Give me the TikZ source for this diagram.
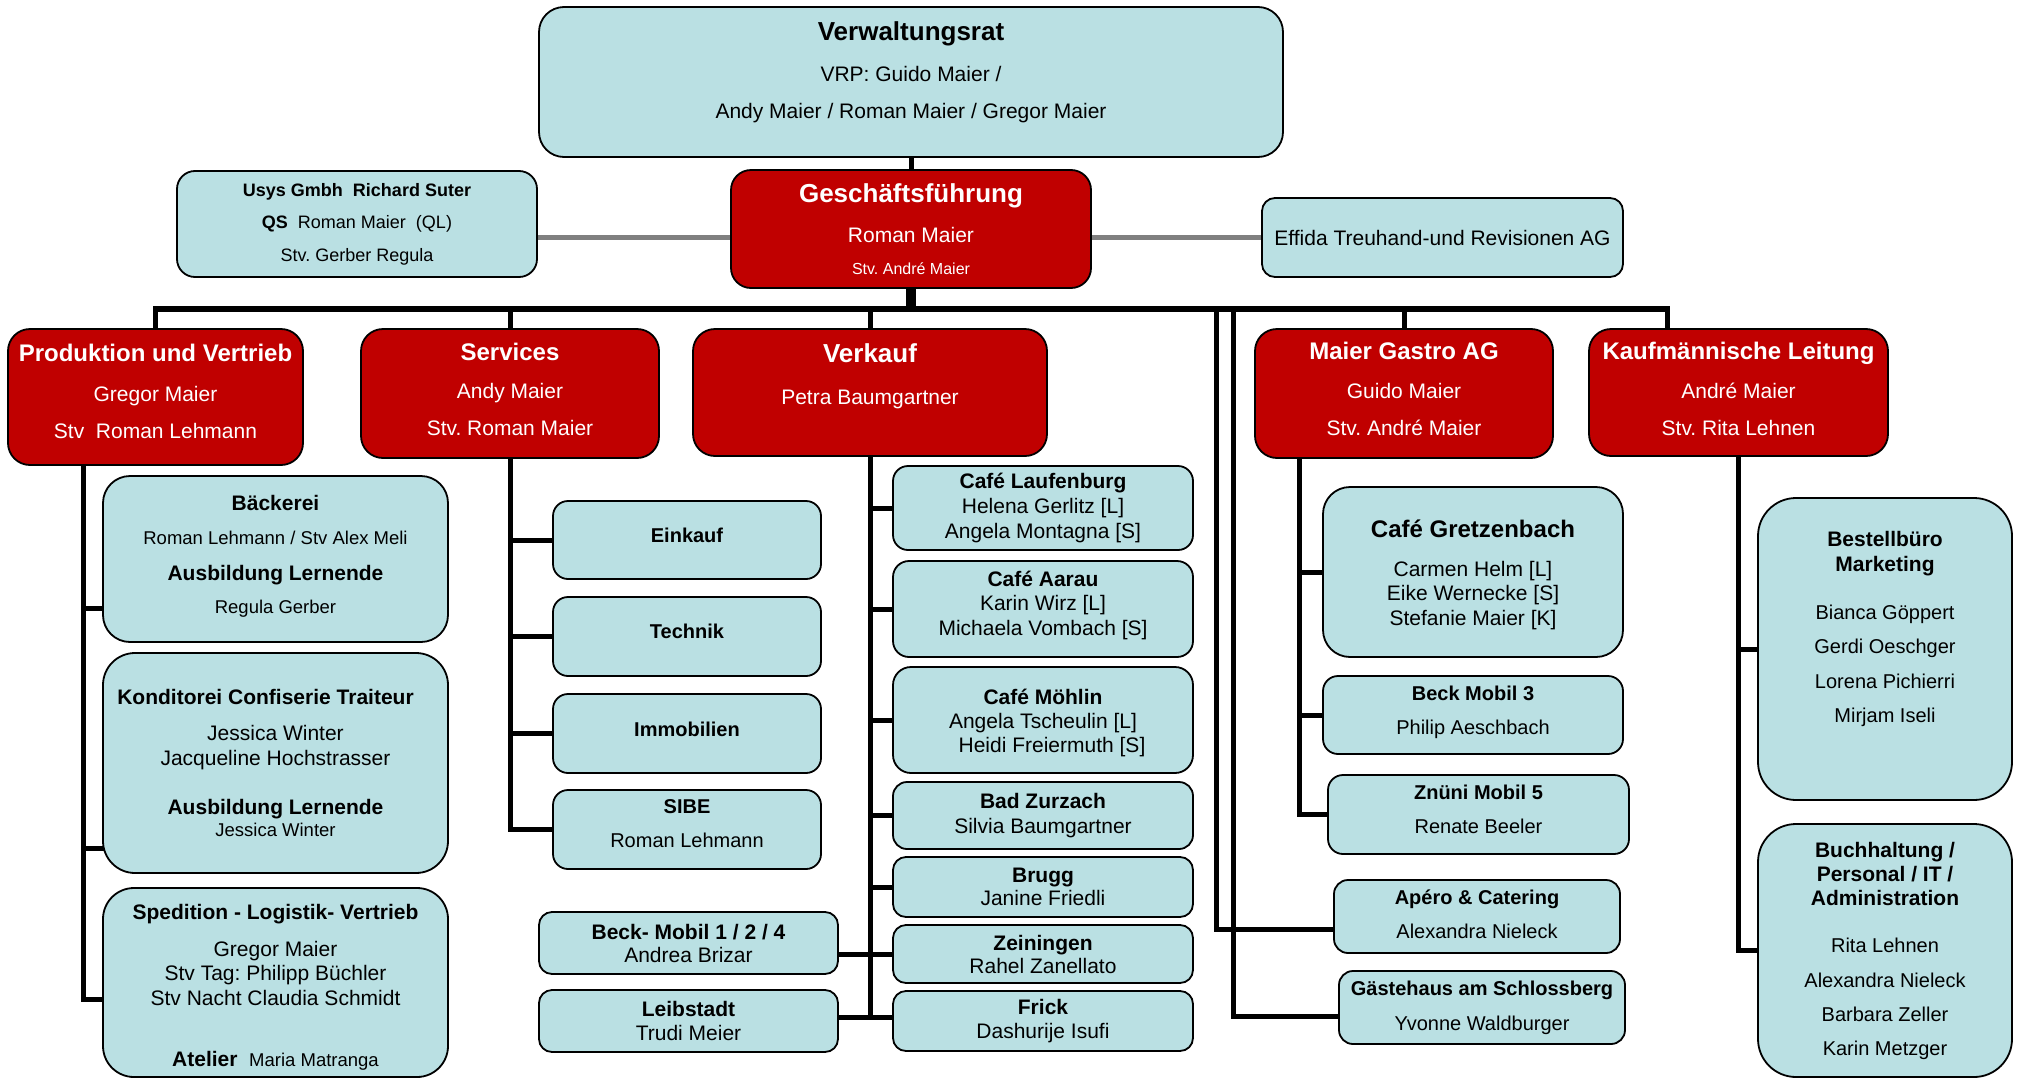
\documentclass[tikz,border=0pt]{standalone}
\usepackage{fontspec}
\setmainfont{Liberation Sans}
\usetikzlibrary{backgrounds}
\definecolor{gfred}{HTML}{C00000}
\definecolor{lblue}{HTML}{BAE0E3}
\definecolor{tiegray}{HTML}{808080}
\newcommand\hd[2]{{\bfseries\fontsize{#1}{0}\selectfont #2}}
\newcommand\nm[2]{{\fontsize{#1}{0}\selectfont #2}}
\frenchspacing
\tikzset{
  box/.style={draw=black, line width=1.8pt, align=center, inner sep=0pt,
    font={\fontsize{21}{0}\selectfont\lineskiplimit=-1000pt}},
  rbox/.style={box, fill=gfred, text=white},
  bbox/.style={box, fill=lblue},
  tie/.style={line width=5pt, line cap=rect},
  bus/.style={line width=6pt, line cap=rect},
  grayline/.style={line width=5pt, draw=tiegray}
}
\begin{document}
\begin{tikzpicture}[x=1pt, y=-1pt]
\useasboundingbox (0,0) rectangle (2040,1079);
% Leitung
\node[bbox, minimum width=744pt, minimum height=150pt, rounded corners=25pt] (vr) at (911,82)
  {\hd{26}{Verwaltungsrat}\\[41pt] VRP: Guido Maier /\\[37pt] Andy Maier / Roman Maier / Gregor Maier\\[24pt]\mbox{}};
\node[rbox, minimum width=360pt, minimum height=118pt, rounded corners=20pt] (gf) at (911,229)
  {\hd{26}{Geschäftsführung}\\[40pt] Roman Maier\\[32pt]\nm{16}{Stv. André Maier}};
\node[bbox, minimum width=360pt, minimum height=106pt, rounded corners=18pt] (usys) at (357,224)
  {\hd{18}{Usys Gmbh\ \ Richard Suter}\\[32pt]\nm{18}{\textbf{QS}\ \ Roman Maier\ \ (QL)}\\[33pt]\nm{18}{Stv. Gerber Regula}};
\node[bbox, minimum width=361pt, minimum height=79pt, rounded corners=13pt] (effida) at (1442.5,237.5)
  {Effida Treuhand-und Revisionen AG};
% Bereiche
\node[rbox, minimum width=295pt, minimum height=136pt, rounded corners=22pt] (pv) at (155.5,397)
  {\hd{24}{Produktion und Vertrieb}\\[40pt] Gregor Maier\\[37pt] Stv\ \ Roman Lehmann\\[12pt]\mbox{}};
\node[rbox, minimum width=298pt, minimum height=129pt, rounded corners=22pt] (serv) at (510,393.5)
  {\hd{24}{Services}\\[38pt] Andy Maier\\[37pt] Stv. Roman Maier\\[9pt]\mbox{}};
\node[rbox, minimum width=354pt, minimum height=127pt, rounded corners=22pt] (verk) at (870,392.5)
  {\hd{26}{Verkauf}\\[42pt] Petra Baumgartner\\[37pt]\mbox{}};
\node[rbox, minimum width=298pt, minimum height=129pt, rounded corners=22pt] (gastro) at (1404,393.5)
  {\hd{24}{Maier Gastro AG}\\[39pt] Guido Maier\\[37pt] Stv. André Maier\\[10pt]\mbox{}};
\node[rbox, minimum width=299pt, minimum height=127pt, rounded corners=22pt] (kl) at (1738.5,392.5)
  {\hd{24}{Kaufmännische Leitung}\\[39pt] André Maier\\[37pt] Stv. Rita Lehnen\\[8pt]\mbox{}};
% Produktion
\node[bbox, minimum width=345pt, minimum height=166pt, rounded corners=27pt] (baeck) at (275.5,559)
  {\hd{21}{Bäckerei}\\[34pt]\nm{18.5}{Roman Lehmann / Stv Alex Meli\hspace*{50pt}}\\[36pt]\hd{21}{Ausbildung Lernende}\\[33pt]\nm{18.5}{Regula Gerber}\\[9pt]\mbox{}};
\node[bbox, minimum width=345pt, minimum height=220pt, rounded corners=32pt] (kond) at (275.5,763)
  {\hd{21}{Konditorei Confiserie Traiteur\hspace*{20pt}}\\[36pt] Jessica Winter\\[25pt] Jacqueline Hochstrasser\\[49pt]\hd{21}{Ausbildung Lernende}\\[22pt]\nm{18.5}{Jessica Winter}};
\node[bbox, minimum width=345pt, minimum height=189pt, rounded corners=31pt] (sped) at (275.5,982.5)
  {\mbox{}\\[25pt]\hd{21}{Spedition - Logistik- Vertrieb}\\[37pt] Gregor Maier\\[24pt] Stv Tag: Philipp Büchler\\[25pt] Stv Nacht Claudia Schmidt\\[61pt]\hd{21}{Atelier}\ \ \nm{18.5}{Maria Matranga}};
% Services
\node[bbox, minimum width=268pt, minimum height=78pt, rounded corners=15pt] (eink) at (687,540) {\hd{20}{Einkauf}\\[10pt]\mbox{}};
\node[bbox, minimum width=268pt, minimum height=79pt, rounded corners=15pt] (tech) at (687,636.5) {\hd{20}{Technik}\\[11pt]\mbox{}};
\node[bbox, minimum width=268pt, minimum height=79pt, rounded corners=15pt] (immo) at (687,733.5) {\hd{20}{Immobilien}\\[9pt]\mbox{}};
\node[bbox, minimum width=268pt, minimum height=79pt, rounded corners=15pt] (sibe) at (687,829.5)
  {\hd{20}{SIBE}\\[34pt]\nm{20}{Roman Lehmann}\\[11pt]\mbox{}};
% Verkauf
\node[bbox, minimum width=300pt, minimum height=84pt, rounded corners=15pt] (lauf) at (1043,508)
  {\hd{21}{Café Laufenburg}\\[25pt] Helena Gerlitz [L]\\[25pt] Angela Montagna [S]};
\node[bbox, minimum width=300pt, minimum height=96pt, rounded corners=16pt] (aarau) at (1043,609)
  {\hd{21}{Café Aarau}\\[24pt] Karin Wirz [L]\\[25pt] Michaela Vombach [S]\\[11pt]\mbox{}};
\node[bbox, minimum width=300pt, minimum height=106pt, rounded corners=18pt] (moehlin) at (1043,720)
  {\mbox{}\\[22pt]\hd{21}{Café Möhlin}\\[24pt] Angela Tscheulin [L]\\[24pt]\hspace*{18pt}Heidi Freiermuth [S]};
\node[bbox, minimum width=300pt, minimum height=67pt, rounded corners=14pt] (zurz) at (1043,815.5)
  {\hd{21}{Bad Zurzach}\\[25pt] Silvia Baumgartner};
\node[bbox, minimum width=300pt, minimum height=60pt, rounded corners=13pt] (brugg) at (1043,887)
  {\hd{21}{Brugg}\\[23pt] Janine Friedli};
\node[bbox, minimum width=300pt, minimum height=58pt, rounded corners=13pt] (zein) at (1043,954)
  {\hd{21}{Zeiningen}\\[23pt] Rahel Zanellato};
\node[bbox, minimum width=300pt, minimum height=60pt, rounded corners=13pt] (frick) at (1043,1021)
  {\hd{21}{Frick}\\[24pt] Dashurije Isufi};
\node[bbox, minimum width=299pt, minimum height=62pt, rounded corners=13pt] (beckm) at (688.5,943)
  {\hd{21}{Beck- Mobil 1 / 2 / 4}\\[23pt] Andrea Brizar};
\node[bbox, minimum width=299pt, minimum height=62pt, rounded corners=13pt] (leib) at (688.5,1021)
  {\hd{21}{Leibstadt}\\[24pt] Trudi Meier};
% Maier Gastro
\node[bbox, minimum width=300pt, minimum height=170pt, rounded corners=27pt] (gretz) at (1473,572)
  {\mbox{}\\[24pt]\hd{24}{Café Gretzenbach}\\[39pt] Carmen Helm [L]\\[24pt] Eike Wernecke [S]\\[25pt] Stefanie Maier [K]};
\node[bbox, minimum width=300pt, minimum height=78pt, rounded corners=15pt] (beck3) at (1473,715)
  {\hd{20}{Beck Mobil 3}\\[34pt]\nm{20}{Philip Aeschbach}\\[10pt]\mbox{}};
\node[bbox, minimum width=301pt, minimum height=79pt, rounded corners=15pt] (znueni) at (1478.5,814.5)
  {\hd{20}{Znüni Mobil 5}\\[34pt]\nm{20}{Renate Beeler}\\[11pt]\mbox{}};
\node[bbox, minimum width=286pt, minimum height=73pt, rounded corners=14pt] (apero) at (1477,916.5)
  {\hd{20}{Apéro \& Catering}\\[34pt]\nm{20}{Alexandra Nieleck}\\[5pt]\mbox{}};
\node[bbox, minimum width=286pt, minimum height=73pt, rounded corners=14pt] (gaest) at (1482,1007.5)
  {\hd{20}{Gästehaus am Schlossberg}\\[35pt]\nm{20}{Yvonne Waldburger}};
% Kaufmaennische Leitung
\node[bbox, minimum width=254pt, minimum height=302pt, rounded corners=38pt] (bestell) at (1885,649)
  {\hd{21}{Bestellbüro}\\[25pt]\hd{21}{Marketing}\\[48pt]\nm{20}{Bianca Göppert}\\[34pt]\nm{20}{Gerdi Oeschger}\\[35pt]\nm{20}{Lorena Pichierri}\\[34pt]\nm{20}{Mirjam Iseli}\\[45pt]\mbox{}};
\node[bbox, minimum width=254pt, minimum height=253pt, rounded corners=38pt] (buch) at (1885,950.5)
  {\hd{21}{Buchhaltung /}\\[24pt]\hd{21}{Personal / IT /}\\[24pt]\hd{21}{Administration}\\[47pt]\nm{20}{Rita Lehnen}\\[35pt]\nm{20}{Alexandra Nieleck}\\[34pt]\nm{20}{Barbara Zeller}\\[34pt]\nm{20}{Karin Metzger}};
\coordinate (busL) at (155.5,309);
\coordinate (busR) at (1667,309);
\coordinate (gx1) at (1216,309);
\coordinate (gx2) at (1233,309);
\coordinate (pvt) at (pv.south -| 83,0);
\coordinate (gat) at (gastro.south -| 1299,0);
\begin{scope}[on background layer]
\draw[grayline] (usys.east |- effida.west) -- (gf.west |- effida.west);
\draw[grayline] (gf.east |- effida.west) -- (effida.west);
\draw[tie] (vr.south) -- (gf.north);
\draw[line width=10pt] (gf.south) -- (gf.south |- busL);
\draw[bus] (busL) -- (busR);
\draw[tie] (busL) -- (pv.north);
\foreach \n in {serv,verk,gastro} \draw[tie] (\n.north |- busL) -- (\n.north);
\draw[tie] (busR) -- (busR |- kl.north);
\draw[tie] (gx1) |- ([yshift=-12.5pt]apero.west);
\draw[tie] (gx2) |- ([yshift=-8.5pt]gaest.west);
\draw[tie] (pvt) |- ([yshift=-16.5pt]sped.west);
\draw[tie] ([yshift=-49pt]baeck.west) -| (pvt);
\draw[tie] ([yshift=-85pt]kond.west) -| (pvt);
\draw[tie] (serv.south) |- (sibe.west);
\foreach \n in {eink,tech,immo} \draw[tie] (\n.west) -| (serv.south);
\draw[tie] (verk.south) |- ([yshift=4pt]frick.west);
\foreach \n in {lauf,aarau,moehlin,zurz,brugg} \draw[tie] (\n.west) -| (verk.south);
\draw[tie] (beckm.east |- zein.west) -- (zein.west);
\draw[tie] ([yshift=4pt]leib.east) -- ([yshift=4pt]frick.west);
\draw[tie] (gat) |- (znueni.west);
\foreach \n in {gretz,beck3} \draw[tie] (\n.west) -| (gat);
\draw[tie] (kl.south) |- (buch.west);
\draw[tie] (bestell.west) -| (kl.south);
\end{scope}
\end{tikzpicture}
\end{document}
